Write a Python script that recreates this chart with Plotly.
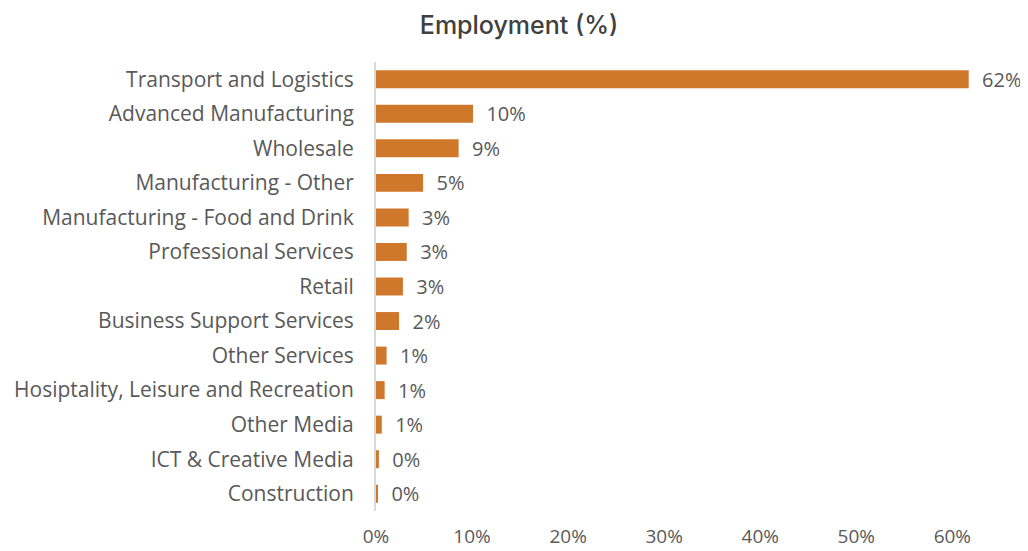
import plotly.graph_objects as go

categories = [
    "Transport and Logistics",
    "Advanced Manufacturing",
    "Wholesale",
    "Manufacturing - Other",
    "Manufacturing - Food and Drink",
    "Professional Services",
    "Retail",
    "Business Support Services",
    "Other Services",
    "Hosiptality, Leisure and Recreation",
    "Other Media",
    "ICT & Creative Media",
    "Construction",
]
values = [0.617, 0.101, 0.086, 0.049, 0.034, 0.032, 0.028, 0.024, 0.011, 0.009, 0.006, 0.003, 0.002]
tick_vals = [0, 0.1, 0.2, 0.3, 0.4, 0.5, 0.6]
tick_text = ["0%", "10%", "20%", "30%", "40%", "50%", "60%"]

label_font = "Open Sans"
gray = "#595959"

fig = go.Figure(
    go.Bar(
        y=categories,
        x=values,
        orientation="h",
        marker=dict(color="#CF772B", line=dict(width=0)),
        text=[f"{v:.0%}" for v in values],
        texttemplate="  %{text}",
        textposition="outside",
        constraintext="none",
        textfont=dict(family=label_font, size=20, color=gray),
        cliponaxis=False,
    )
)

# page body adds an 8px offset, so the figure is 8px smaller on each axis
fig.update_layout(
    width=1020,
    height=543,
    margin=dict(l=368, r=18, t=54, b=40, autoexpand=False),
    paper_bgcolor="white",
    plot_bgcolor="white",
    bargap=0.48,
    showlegend=False,
    title=dict(
        text="Employment (%)",
        x=0.501,
        xanchor="center",
        y=0.969,
        yanchor="middle",
        font=dict(family="Inter", size=25, color="#404040", weight=500),
    ),
)
fig.update_yaxes(
    autorange="reversed",
    automargin=False,
    showline=True,
    linecolor="#D9D9D9",
    linewidth=2,
    ticks="",
    showgrid=False,
    ticklabelstandoff=16,
    tickfont=dict(family=label_font, size=21, color=gray),
)
fig.update_xaxes(
    range=[0, 0.66],
    automargin=False,
    tickvals=tick_vals,
    ticktext=tick_text,
    showgrid=False,
    zeroline=False,
    showline=False,
    ticks="",
    ticklabelstandoff=12,
    tickfont=dict(family=label_font, size=19, color=gray),
)

fig.write_html("out.html")
